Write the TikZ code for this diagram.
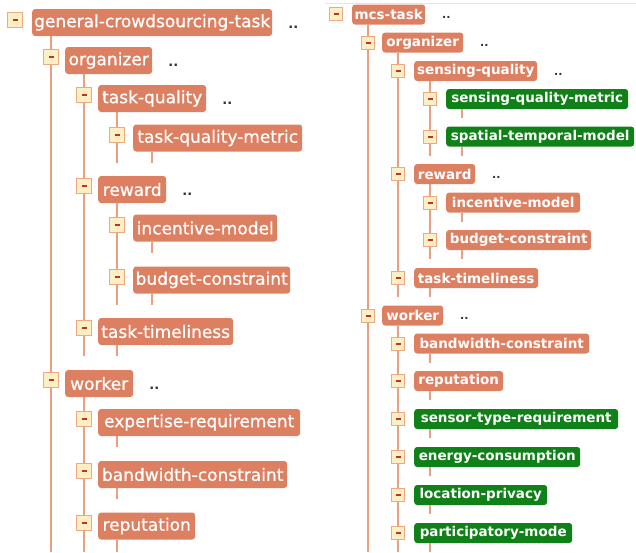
\documentclass[tikz,border=0pt]{standalone}
\usepackage{fontspec}
\newfontfamily\dvs{DejaVu Sans}
\newfontfamily\dvsm[FakeBold=0.8]{DejaVu Sans}
\definecolor{boxc}{RGB}{221,128,98}
\definecolor{greenc}{RGB}{16,128,24}
\definecolor{linec}{RGB}{232,160,128}
\definecolor{togf}{RGB}{253,238,196}
\definecolor{togb}{RGB}{236,170,130}
\definecolor{tdash}{RGB}{190,50,40}
\definecolor{dotc}{RGB}{50,50,50}
\tikzset{
  lbox/.style={fill=boxc, text=white, rounded corners=3pt, inner xsep=1pt, inner ysep=0pt,
    minimum height=27pt, anchor=west, font=\dvsm\fontsize{17}{19}\selectfont},
  rbox/.style={fill=boxc, text=white, rounded corners=3pt, inner xsep=1pt, inner ysep=0pt,
    minimum height=20pt, anchor=west, font=\dvs\bfseries\fontsize{13.5}{15}\selectfont},
  gbox/.style={rbox, fill=greenc},
  togbase/.style={draw=togb, fill=togf, line width=1pt, inner sep=0pt, rectangle,
    path picture={\fill[tdash] ([shift={(-2.5pt,-1pt)}]path picture bounding box.center)
      rectangle ([shift={(2.5pt,1pt)}]path picture bounding box.center);}},
  ltog/.style={togbase, minimum size=15pt, yshift=3.5pt},
  rtog/.style={togbase, minimum size=13pt},
  lconn/.style={draw=linec, line width=1.5pt},
  rconn/.style={draw=linec, line width=1.2pt},
  ldots/.style={anchor=base, text=dotc, inner sep=0pt, font=\dvs\bfseries\fontsize{13}{15}\selectfont},
  rdots/.style={anchor=base, text=dotc, inner sep=0pt, font=\dvs\bfseries\fontsize{11}{13}\selectfont},
}
\begin{document}
\begin{tikzpicture}[x=1pt,y=-1pt]
\fill[white] (0,0) rectangle (636,552);
\useasboundingbox (0,0) rectangle (636,552);
\coordinate (bot) at (0,552);
\draw[gray!20, line width=0.8pt] (325,3) -- (636,3);

% ---------- left tree: boxes ----------
\node[lbox, minimum width=240pt] (g)   at (32,22.5)  {general-crowdsourcing-task};
\node[lbox, minimum width=87pt]  (o)   at (65,60.5)  {organizer};
\node[lbox, minimum width=108pt] (tq)  at (98,98.5)  {task-quality};
\node[lbox, minimum width=169pt] (tqm) at (133,138)  {task-quality-metric};
\node[lbox, minimum width=68pt]  (rw)  at (98,189.5) {reward};
\node[lbox, minimum width=144pt] (im)  at (133,228)  {incentive-model};
\node[lbox, minimum width=157pt] (bc)  at (133,280)  {budget-constraint};
\node[lbox, minimum width=135pt] (tt)  at (98,331.5) {task-timeliness};
\node[lbox, minimum width=68pt]  (wk)  at (65,383.5) {worker};
\node[lbox, minimum width=202pt] (er)  at (98,422.5) {expertise-requirement};
\node[lbox, minimum width=189pt] (bw)  at (98,474.5) {bandwidth-constraint};
\node[lbox, minimum width=97pt]  (rp)  at (98,526)   {reputation};

\foreach \n in {g,o,tq,tqm,rw,im,bc,tt,wk,er,bw,rp}
  \coordinate (\n-s) at ([shift={(19pt,-11pt)}]\n.south west);

% dots
\foreach \n/\d in {g/gd,o/od,tq/tqd,rw/rwd,wk/wkd}
  \node[ldots] (\d) at ([shift={(21pt,-6pt)}]\n.east) {..};

% lines
\draw[lconn] ([xshift=19pt]g.south west) -- (g-s |- bot);
\draw[lconn] ([xshift=19pt]o.south west) -- (o-s |- tt-s);
\draw[lconn] ([xshift=19pt]tq.south west) -- (tq-s |- tqm-s);
\draw[lconn] ([xshift=19pt]rw.south west) -- (rw-s |- bc-s);
\draw[lconn] ([xshift=19pt]wk.south west) -- (wk-s |- bot);
\foreach \n in {tqm,im,bc,tt,er,bw}
  \draw[lconn] ([xshift=19pt]\n.south west) -- (\n-s);
\draw[lconn] ([xshift=19pt]rp.south west) -- (rp-s |- bot);

% toggles
\node[togbase, minimum size=15pt] (g-t) at (15,20) {};
\node[ltog] (o-t)   at (g-s |- o.center) {};
\node[ltog] (tq-t)  at (o-s |- tq.center) {};
\node[ltog] (tqm-t) at (tq-s |- tqm.center) {};
\node[ltog] (rw-t)  at (o-s |- rw.center) {};
\node[ltog] (im-t)  at (rw-s |- im.center) {};
\node[ltog] (bc-t)  at (rw-s |- bc.center) {};
\node[ltog] (tt-t)  at (o-s |- tt.center) {};
\node[ltog] (wk-t)  at (g-s |- wk.center) {};
\node[ltog] (er-t)  at (wk-s |- er.center) {};
\node[ltog] (bw-t)  at (wk-s |- bw.center) {};
\node[ltog] (rp-t)  at (wk-s |- rp.center) {};

% ---------- right tree: boxes ----------
\node[rbox, minimum width=73pt]  (m)    at (352,14.5)  {mcs-task};
\node[rbox, minimum width=81pt]  (o2)   at (382,42.5)  {organizer};
\node[rbox, minimum width=123pt] (sq)   at (414,71)    {sensing-quality};
\node[gbox, minimum width=182pt] (sqm)  at (446,99)    {sensing-quality-metric};
\node[gbox, minimum width=188pt] (stm)  at (446,136.5) {spatial-temporal-model};
\node[rbox, minimum width=61pt]  (rw2)  at (414,174)   {reward};
\node[rbox, minimum width=134pt] (im2)  at (446,202.5) {incentive-model};
\node[rbox, minimum width=145pt] (bc2)  at (446,240)   {budget-constraint};
\node[rbox, minimum width=124pt] (tt2)  at (414,278)   {task-timeliness};
\node[rbox, minimum width=61pt]  (wk2)  at (382,315.5) {worker};
\node[rbox, minimum width=175pt] (bw2)  at (414,343.5) {bandwidth-constraint};
\node[rbox, minimum width=89pt]  (rp2)  at (414,381)   {reputation};
\node[gbox, minimum width=204pt] (st2)  at (414,419)   {sensor-type-requirement};
\node[gbox, minimum width=166pt] (ec2)  at (414,457)   {energy-consumption};
\node[gbox, minimum width=133pt] (lp2)  at (414,495)   {location-privacy};
\node[gbox, minimum width=158pt] (pm2)  at (414,533)   {participatory-mode};

\foreach \n in {m,o2,sq,sqm,stm,rw2,im2,bc2,tt2,wk2,bw2,rp2,st2,ec2,lp2,pm2}
  \coordinate (\n-s) at ([shift={(16pt,-9pt)}]\n.south west);

\foreach \n/\d in {m/md,o2/o2d,sq/sqd,rw2/rw2d,wk2/wk2d}
  \node[rdots] (\d) at ([shift={(21pt,-4pt)}]\n.east) {..};

\draw[rconn] ([xshift=16pt]m.south west) -- (m-s |- bot);
\draw[rconn] ([xshift=16pt]o2.south west) -- (o2-s |- tt2-s);
\draw[rconn] ([xshift=16pt]sq.south west) -- (sq-s |- stm-s);
\draw[rconn] ([xshift=16pt]rw2.south west) -- (rw2-s |- bc2-s);
\draw[rconn] ([xshift=16pt]wk2.south west) -- (wk2-s |- bot);
\foreach \n in {sqm,stm,im2,bc2,tt2,bw2,rp2,st2,ec2,lp2}
  \draw[rconn] ([xshift=16pt]\n.south west) -- (\n-s);
\draw[rconn] ([xshift=16pt]pm2.south west) -- (pm2-s |- bot);

\node[rtog] (m-t)   at (336,14) {};
\node[rtog] (o2-t)  at (m-s |- o2.center) {};
\node[rtog] (sq-t)  at (o2-s |- sq.center) {};
\node[rtog] (sqm-t) at (sq-s |- sqm.center) {};
\node[rtog] (stm-t) at (sq-s |- stm.center) {};
\node[rtog] (rw2-t) at (o2-s |- rw2.center) {};
\node[rtog] (im2-t) at (rw2-s |- im2.center) {};
\node[rtog] (bc2-t) at (rw2-s |- bc2.center) {};
\node[rtog] (tt2-t) at (o2-s |- tt2.center) {};
\node[rtog] (wk2-t) at (m-s |- wk2.center) {};
\node[rtog] (bw2-t) at (wk2-s |- bw2.center) {};
\node[rtog] (rp2-t) at (wk2-s |- rp2.center) {};
\node[rtog] (st2-t) at (wk2-s |- st2.center) {};
\node[rtog] (ec2-t) at (wk2-s |- ec2.center) {};
\node[rtog] (lp2-t) at (wk2-s |- lp2.center) {};
\node[rtog] (pm2-t) at (wk2-s |- pm2.center) {};
\end{tikzpicture}
\end{document}
